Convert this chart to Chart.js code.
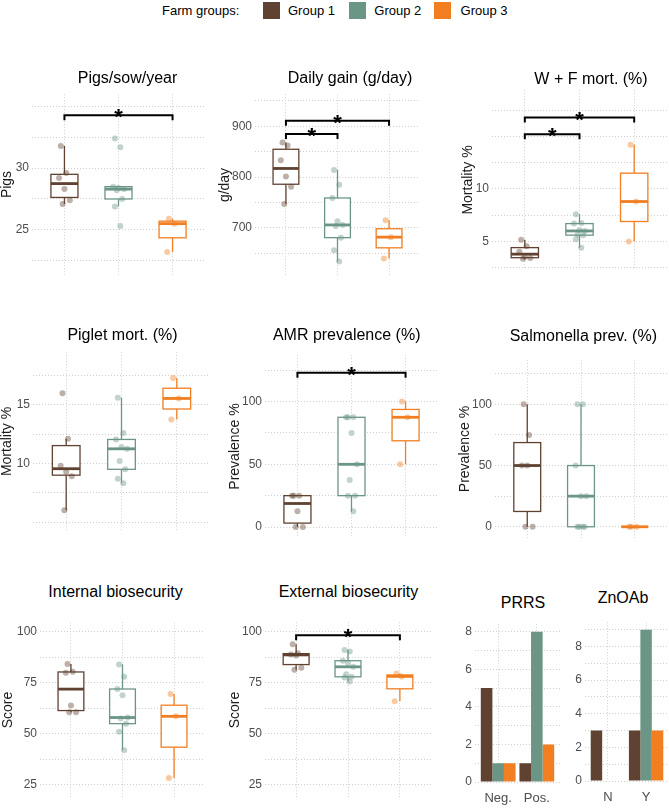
<!DOCTYPE html>
<html>
<head>
<meta charset="utf-8">
<script src="https://cdn.jsdelivr.net/npm/chart.js@4.4.1/dist/chart.umd.min.js"></script>
<style>
  body { margin: 0; background: #fff; font-family: "Liberation Sans", Arial, sans-serif; }
  #page { position: relative; width: 669px; height: 810px; overflow: hidden; }
  .panel { position: absolute; }
  .ttl { position: absolute; transform: translate(-50%, -50%); font-size: 16px; color: #000; white-space: nowrap; line-height: 1.15; }
  .leg { position: absolute; font-size: 13px; line-height: 16px; color: #000; white-space: nowrap; }
  .sw { position: absolute; width: 17px; height: 17px; }
</style>
</head>
<body>
<div id="page"></div>
<script>
const groups = ['Group 1', 'Group 2', 'Group 3'];
const groupColors = ['#5F4231', '#6B9685', '#F17E21'];

// box plot panels: one array of farm values per group
const pigsSowYear = [
  [31.8, 29.6, 29.2, 28.3, 27.4, 27.1],
  [32.4, 31.7, 28.5, 28.4, 28.3, 28.2, 27.5, 26.9, 25.3],
  [25.9, 25.5, 23.2]
];
const dailyGain = [
  [868, 862, 833, 801, 781, 747],
  [814, 785, 759, 713, 706, 704, 681, 656, 634],
  [715, 682, 640]
];
const wfMort = [
  [5.16, 4.54, 4.03, 3.55, 3.42, 3.35],
  [7.6, 6.75, 6.7, 6.1, 6.0, 5.65, 5.6, 5.2, 4.4],
  [14.2, 8.8, 5.0]
];
const pigletMort = [
  [16.0, 12.1, 9.8, 9.3, 8.9, 6.0],
  [15.6, 12.6, 12.05, 11.4, 11.25, 10.2, 9.5, 8.7, 8.3],
  [17.3, 15.55, 13.75]
];
const amrPrev = [
  [25, 25, 25, 12.5, 0, 0],
  [87.5, 87.5, 87.5, 75, 50, 37.5, 25, 25, 12.5],
  [100, 87.5, 50]
];
const salmPrev = [
  [100, 75, 50, 50, 0, 0],
  [100, 100, 50, 25, 25, 0, 0, 0, 0],
  [0, 0, 0]
];
const intBio = [
  [84.3, 80.5, 80, 63.9, 60.6, 60.6],
  [84, 78, 72, 69, 58, 57.5, 55, 51, 42],
  [69.5, 58.6, 28.3]
];
const extBio = [
  [94, 89.5, 89, 88.5, 82.5, 81.5],
  [91.2, 90.4, 85.9, 84.8, 82.9, 79.3, 78, 77.6, 75.7],
  [79.6, 78.2, 66]
];

// y tick labels that are printed
const pigsTicks = [25, 30];
const gainTicks = [700, 800, 900];
const wfTicks = [5, 10];
const pigletTicks = [10, 15];
const prevTicks = [0, 50, 100];
const scoreTicks = [25, 50, 75, 100];
const countTicks = [0, 2, 4, 6, 8];

// significance brackets: [from group, to group, height]
const pigsSig = [[1, 3, 34.3]];
const gainSig = [[1, 3, 911], [1, 2, 885]];
const wfSig = [[1, 3, 16.8], [1, 2, 15.2]];
const amrSig = [[1, 3, 123]];
const extSig = [[1, 3, 98.4]];

// bar panels: counts per group for each category
const prrsCats = ['Neg.', 'Pos.'];
const prrsCounts = [[5, 1], [1, 8], [1, 2]];
const znoCats = ['N', 'Y'];
const znoCounts = [[3, 3], [0, 9], [0, 3]];

const boxPanels = [
  {title: 'Pigs/sow/year', yTitle: 'Pigs', data: pigsSowYear, ticks: pigsTicks, step: 2.5, sig: pigsSig, min: 21.35, max: 36, area: [32, 92, 207, 277], titleAt: [127.5, 78], yTitleX: 7},
  {title: 'Daily gain (g/day)', yTitle: 'g/day', data: dailyGain, ticks: gainTicks, step: 50, sig: gainSig, min: 606, max: 963, area: [255, 92, 422, 278], titleAt: [350, 78], yTitleX: 225},
  {title: 'W + F mort. (%)', yTitle: 'Mortality %', data: wfMort, ticks: wfTicks, step: 2.5, sig: wfSig, min: 2.3, max: 19.4, area: [492, 88, 669, 272], titleAt: [591, 79], yTitleX: 468},
  {title: 'Piglet mort. (%)', yTitle: 'Mortality %', data: pigletMort, ticks: pigletTicks, step: 2.5, sig: [], min: 4.25, max: 19.5, area: [33, 350, 212, 533], titleAt: [122.5, 335], yTitleX: 7},
  {title: 'AMR prevalence (%)', yTitle: 'Prevalence %', data: amrPrev, ticks: prevTicks, step: 25, sig: amrSig, min: -8.6, max: 137, area: [265, 353, 440, 540], titleAt: [346.7, 335], yTitleX: 235},
  {title: 'Salmonella prev. (%)', yTitle: 'Prevalence %', data: salmPrev, ticks: prevTicks, step: 25, sig: [], min: -9, max: 136, area: [495, 358, 669, 540], titleAt: [583.3, 336], yTitleX: 465},
  {title: 'Internal biosecurity', yTitle: 'Score', data: intBio, ticks: scoreTicks, step: 12.5, sig: [], min: 18.6, max: 104.8, area: [40, 620, 207, 800], titleAt: [115.5, 592], yTitleX: 8},
  {title: 'External biosecurity', yTitle: 'Score', data: extBio, ticks: scoreTicks, step: 12.5, sig: extSig, min: 18.6, max: 104.8, area: [265, 620, 433, 800], titleAt: [348.5, 592], yTitleX: 235}
];
const barPanels = [
  {title: 'PRRS', cats: prrsCats, counts: prrsCounts, max: 8.4, area: [475, 622, 560, 782], titleAt: [523, 603]},
  {title: 'ZnOAb', cats: znoCats, counts: znoCounts, max: 9.45, area: [585, 620, 669, 781], titleAt: [623, 598]}
];

Chart.defaults.font.family = '"Liberation Sans", Arial, sans-serif';
const page = document.getElementById('page');
const tickFont = {size: 12};
const tickColor = '#4d4d4d';
const gridOpts = {color: '#cfcfcf', lineWidth: 1, drawTicks: false};
const borderOpts = {display: false, dash: [1, 2]};

function fade(hex, a) {
  const n = parseInt(hex.slice(1), 16);
  return `rgba(${n >> 16}, ${(n >> 8) & 255}, ${n & 255}, ${a})`;
}
function quantile(sorted, p) {
  const h = (sorted.length - 1) * p;
  const lo = Math.floor(h);
  const next = lo + 1 < sorted.length ? sorted[lo + 1] : sorted[lo];
  return sorted[lo] + (h - lo) * (next - sorted[lo]);
}
// fixed spread of points around the group centre
function jitter(i) {
  return (((i * 3 + 1) % 7) / 6 - 0.5) * 0.2;
}
function stepsBetween(min, max, step) {
  const out = [];
  for (let v = Math.ceil(min / step) * step; v <= max + 1e-9; v += step) out.push({value: +v.toFixed(6)});
  return out;
}
function addCanvas(left, top, w, h) {
  const div = document.createElement('div');
  div.className = 'panel';
  div.style.left = left + 'px';
  div.style.top = top + 'px';
  const c = document.createElement('canvas');
  c.width = w;
  c.height = h;
  c.style.width = w + 'px';
  c.style.height = h + 'px';
  div.appendChild(c);
  page.appendChild(div);
  return c;
}
function addTitle(text, at) {
  const t = document.createElement('div');
  t.className = 'ttl';
  t.textContent = text;
  t.style.left = at[0] + 'px';
  t.style.top = at[1] + 'px';
  page.appendChild(t);
}

function boxPlugin(p) {
  return {
    id: 'boxes',
    beforeDatasetsDraw(chart) {
      const {ctx} = chart;
      const x = chart.scales.x, y = chart.scales.y;
      p.data.forEach((vals, g) => {
        const s = [...vals].sort((a, b) => a - b);
        const q1 = quantile(s, 0.25), med = quantile(s, 0.5), q3 = quantile(s, 0.75);
        const iqr = q3 - q1;
        const lo = Math.min(...s.filter(v => v >= q1 - 1.5 * iqr));
        const hi = Math.max(...s.filter(v => v <= q3 + 1.5 * iqr));
        const cx = x.getPixelForValue(g + 1);
        const hw = x.getPixelForValue(g + 1.25) - cx;
        const y1 = y.getPixelForValue(q1), y3 = y.getPixelForValue(q3);
        ctx.save();
        ctx.strokeStyle = groupColors[g];
        ctx.lineWidth = 1.3;
        ctx.beginPath();
        ctx.moveTo(cx, y3); ctx.lineTo(cx, y.getPixelForValue(hi));
        ctx.moveTo(cx, y1); ctx.lineTo(cx, y.getPixelForValue(lo));
        ctx.stroke();
        ctx.fillStyle = '#fff';
        ctx.fillRect(cx - hw, y3, hw * 2, y1 - y3);
        ctx.strokeRect(cx - hw, y3, hw * 2, y1 - y3);
        const ym = y.getPixelForValue(med);
        ctx.lineWidth = 2.8;
        ctx.beginPath();
        ctx.moveTo(cx - hw, ym); ctx.lineTo(cx + hw, ym);
        ctx.stroke();
        ctx.restore();
      });
    },
    afterDatasetsDraw(chart) {
      const {ctx} = chart;
      const x = chart.scales.x, y = chart.scales.y;
      p.sig.forEach(([a, b, h]) => {
        const x1 = x.getPixelForValue(a), x2 = x.getPixelForValue(b), yy = y.getPixelForValue(h);
        ctx.save();
        ctx.strokeStyle = '#000';
        ctx.lineWidth = 2;
        ctx.beginPath();
        ctx.moveTo(x1, yy + 5); ctx.lineTo(x1, yy); ctx.lineTo(x2, yy); ctx.lineTo(x2, yy + 5);
        ctx.stroke();
        ctx.fillStyle = '#000';
        ctx.font = 'bold 22px "Liberation Sans", Arial, sans-serif';
        ctx.textAlign = 'center';
        ctx.textBaseline = 'alphabetic';
        ctx.fillText('*', (x1 + x2) / 2, yy + 9);
        ctx.restore();
      });
    }
  };
}

function makeBoxChart(p) {
  const [L, T, R, B] = p.area;
  const left = Math.round(p.yTitleX - 8.4);
  const top = T - 8;
  const canvas = addCanvas(left, top, R + 1 - left, B + 8 - top);
  addTitle(p.title, p.titleAt);
  const datasets = p.data.map((vals, g) => ({
    label: groups[g],
    data: vals.map((v, i) => ({x: g + 1 + jitter(i), y: v})),
    backgroundColor: fade(groupColors[g], 0.42),
    borderWidth: 0,
    pointRadius: 3,
    pointHoverRadius: 3
  }));
  new Chart(canvas, {
    type: 'scatter',
    data: {datasets},
    options: {
      responsive: false,
      animation: false,
      layout: {padding: {top: 8, bottom: 8, left: 0, right: 1}},
      plugins: {legend: {display: false}, tooltip: {enabled: false}},
      scales: {
        x: {
          type: 'linear', min: 0.4, max: 3.6,
          afterBuildTicks: s => { s.ticks = [1, 2, 3].map(v => ({value: v})); },
          afterFit: s => { s.height = 0; },
          ticks: {display: false},
          grid: gridOpts, border: borderOpts
        },
        y: {
          min: p.min, max: p.max,
          afterBuildTicks: s => { s.ticks = stepsBetween(p.min, p.max, p.step); },
          afterFit: s => { s.width = L - left; },
          ticks: {
            font: tickFont, color: tickColor, padding: 3,
            callback: v => p.ticks.some(t => Math.abs(t - v) < 1e-6) ? String(v) : ''
          },
          title: {display: true, text: p.yTitle, font: {size: 14}, color: '#1a1a1a', padding: 0},
          grid: gridOpts, border: borderOpts
        }
      }
    },
    plugins: [boxPlugin(p)]
  });
}

function makeBarChart(p) {
  const [L, T, R, B] = p.area;
  const left = L - 17;
  const top = T - 8;
  const canvas = addCanvas(left, top, R + 1 - left, B + 26 - top);
  addTitle(p.title, p.titleAt);
  const datasets = p.counts.map((c, g) => ({
    label: groups[g],
    data: c.map((v, i) => ({x: i + 1, y: v})),
    backgroundColor: groupColors[g],
    borderWidth: 0,
    categoryPercentage: 0.9,
    barPercentage: 1
  }));
  new Chart(canvas, {
    type: 'bar',
    data: {datasets},
    options: {
      responsive: false,
      animation: false,
      layout: {padding: {top: 8, bottom: 0, left: 0, right: 1}},
      plugins: {legend: {display: false}, tooltip: {enabled: false}},
      scales: {
        x: {
          type: 'linear', min: 0.4, max: 2.6, offset: false,
          afterBuildTicks: s => { s.ticks = p.cats.map((c, i) => ({value: i + 1})); },
          afterFit: s => { s.height = 26; },
          ticks: {font: {size: 13}, color: tickColor, padding: 9, callback: v => p.cats[Math.round(v) - 1]},
          grid: Object.assign({offset: false}, gridOpts), border: borderOpts
        },
        y: {
          min: 0, max: p.max,
          afterBuildTicks: s => { s.ticks = stepsBetween(0, p.max, 1); },
          afterFit: s => { s.width = L - left; },
          ticks: {
            font: tickFont, color: tickColor, padding: 3,
            callback: v => countTicks.includes(v) ? String(v) : ''
          },
          grid: gridOpts, border: borderOpts
        }
      }
    }
  });
}

function makeLegend() {
  const head = document.createElement('div');
  head.className = 'leg';
  head.textContent = 'Farm groups:';
  head.style.left = '162px';
  head.style.top = '3px';
  page.appendChild(head);
  groups.forEach((g, i) => {
    const sw = document.createElement('div');
    sw.className = 'sw';
    sw.style.background = groupColors[i];
    sw.style.left = (263 + i * 85.7) + 'px';
    sw.style.top = '2px';
    page.appendChild(sw);
    const lab = document.createElement('div');
    lab.className = 'leg';
    lab.textContent = g;
    lab.style.left = (288 + i * 86.3) + 'px';
    lab.style.top = '3px';
    page.appendChild(lab);
  });
}

makeLegend();
boxPanels.forEach(makeBoxChart);
barPanels.forEach(makeBarChart);
</script>
</body>
</html>
